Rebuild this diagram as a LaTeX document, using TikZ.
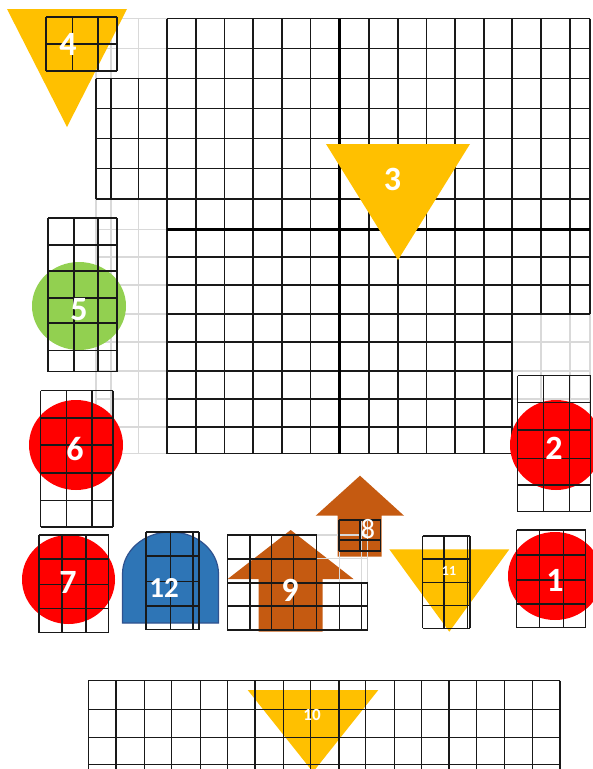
\documentclass[tikz,border=0pt]{standalone}
\usepackage{fontspec}
\usepackage{tikz}
\newfontfamily\numfont{Carlito}
\definecolor{amber}{RGB}{255,192,0}
\definecolor{brightred}{RGB}{255,0,0}
\definecolor{leafgreen}{RGB}{146,208,80}
\definecolor{steelblue}{RGB}{46,117,182}
\definecolor{navyedge}{RGB}{47,82,143}
\definecolor{rust}{RGB}{197,90,17}
\definecolor{paleline}{RGB}{217,217,217}

\begin{document}
\begin{tikzpicture}[
  x=1pt, y=-1pt,
  gline/.style={line width=1.3pt, black!90},
  fline/.style={line width=1.4pt, paleline},
  axisline/.style={line width=2.4pt, black},
  tri/.style={fill=amber},
  disc/.style={fill=brightred},
  num/.style={text=white, inner sep=0pt, font=\numfont\bfseries\fontsize{34}{34}\selectfont}
]
\useasboundingbox (0,0) rectangle (593,769);
\clip (0,0) rectangle (593,769);

%% Faint background grid
\foreach \x in {96,111,138.5}
  \draw[fline] (\x,18.5) -- (\x,453.5);
\foreach \y in {18.5,48.3,78.5,108.5,138.3,168.5,199,229.3,257,285,314,342,371,399,427,453.5}
  \draw[fline] (96,\y) -- (167,\y);
\foreach \x in {541,570,590}
  \draw[fline] (\x,314) -- (\x,453.5);
\foreach \y in {342,371,399,427,453.5}
  \draw[fline] (512,\y) -- (590,\y);

%% Main grid
\foreach \x in {167,196,224.7,253,282,310.7,369,398,426.7,455,484,512}
  \draw[gline] (\x,18.5) -- (\x,453.5);
\foreach \x in {541,570,590}
  \draw[gline] (\x,18.5) -- (\x,314);
\foreach \y in {18.5,48.3,78.5,108.5,138.3,168.5,199,257,285,314}
  \draw[gline] (167,\y) -- (590,\y);
\foreach \y in {342,371,399,427,453.5}
  \draw[gline] (167,\y) -- (512,\y);
\foreach \x in {96,111,138.5}
  \draw[gline] (\x,78.5) -- (\x,199);
\foreach \y in {78.5,108.5,138.3,168.5,199}
  \draw[gline] (96,\y) -- (167,\y);
\draw[axisline] (167,229.3) -- (590,229.3);
\draw[axisline] (339.5,18.5) -- (339.5,453.5);

%% 3
\fill[tri] (326,144) -- (470,144) -- (398,260) -- cycle;
\node[num] (n3) at (392.5,179.5) {3};

%% 4
\fill[tri] (7,9) -- (127,9) -- (67,127) -- cycle;
\foreach \x in {46,72.7,98,117}
  \draw[gline] (\x,17) -- (\x,71);
\foreach \y in {17,44,71}
  \draw[gline] (46,\y) -- (117,\y);
\node[num] (n4) at (68,44) {4};

%% 5
\fill[leafgreen] (79,306) ellipse [x radius=47, y radius=44];
\foreach \x in {48,74,98,117}
  \draw[gline] (\x,218) -- (\x,371.5);
\foreach \y in {218,245,271,298,323,350.5,371.5}
  \draw[gline] (48,\y) -- (117,\y);
\node[num] (n5) at (79,310) {5};

%% 6
\fill[disc] (76,445) ellipse [x radius=47, y radius=45];
\foreach \x in {40.7,66.7,92,113}
  \draw[gline] (\x,390.7) -- (\x,527);
\foreach \y in {390.7,418,445,473,500.5,527}
  \draw[gline] (40.7,\y) -- (113,\y);
\node[num] (n6) at (75,449) {6};

%% 2
\fill[disc] (556,445) ellipse [x radius=46, y radius=45];
\foreach \x in {517.7,543.3,569.3,590.5}
  \draw[gline] (\x,375.7) -- (\x,511.7);
\foreach \y in {375.7,402.7,430,458.3,485,511.7}
  \draw[gline] (517.7,\y) -- (590.5,\y);
\node[num] (n2) at (554,448) {2};

%% 7
\fill[disc] (68.5,579.5) ellipse [x radius=46.5, y radius=44.5];
\foreach \x in {39,62,86,108.7}
  \draw[gline] (\x,535) -- (\x,632.7);
\foreach \y in {535,559,584.7,608.7,632.7}
  \draw[gline] (39,\y) -- (108.7,\y);
\node[num] (n7) at (68,582) {7};

%% 12
\filldraw[fill=steelblue, draw=navyedge, line width=1.2pt]
  (122.5,623) -- (122.5,574) arc[start angle=180, end angle=360, x radius=48, y radius=42]
  -- (218.5,623) -- cycle;
\foreach \x in {146,170.5,193,199}
  \draw[gline] (\x,532) -- (\x,629.5);
\foreach \y in {532,556,581.7,606,629.5}
  \draw[gline] (146,\y) -- (199,\y);
\node[num, font=\numfont\bfseries\fontsize{29}{29}\selectfont] (n12) at (164,588) {12};

%% 9 and 8
\fill[rust] (258.7,631.5) -- (258.7,579) -- (227.7,579) -- (290.7,530)
  -- (353.5,579) -- (322.7,579) -- (322.7,631.5) -- cycle;
\fill[rust] (337.5,556.7) -- (337.5,515.7) -- (315.7,515.7) -- (360,475.7)
  -- (404,515.7) -- (381.7,515.7) -- (381.7,556.7) -- cycle;
\draw[fline] (339.3,535) -- (339.3,583);
\draw[fline] (361.7,520) -- (361.7,583);
\draw[fline] (367.7,520) -- (367.7,583);
\draw[fline] (316.5,535) -- (367.7,535);
\draw[fline] (316.5,558.5) -- (367.7,558.5);
\foreach \x in {227.3,250,271.7,293.3,316.5}
  \draw[gline] (\x,535) -- (\x,630);
\foreach \x in {339.3,361.7,367.7}
  \draw[gline] (\x,583) -- (\x,630);
\foreach \y in {535,559}
  \draw[gline] (227.3,\y) -- (316.5,\y);
\foreach \y in {583,606,630}
  \draw[gline] (227.3,\y) -- (367.7,\y);
\foreach \x in {339,360,380.5}
  \draw[gline] (\x,520) -- (\x,551);
\foreach \y in {520,540,551}
  \draw[gline] (339,\y) -- (380.5,\y);
\node[num] (n9) at (290,590) {9};
\node[num, font=\numfont\fontsize{28}{28}\selectfont] (n8) at (368,529) {8};

%% 11
\fill[tri] (389.3,549.3) -- (509.3,549.3) -- (449.3,631.7) -- cycle;
\foreach \x in {422.7,444,467.7,470}
  \draw[gline] (\x,536) -- (\x,628.3);
\foreach \y in {536,559,582.7,605.7,628.3}
  \draw[gline] (422.7,\y) -- (470,\y);
\node[num, font=\numfont\bfseries\fontsize{14}{14}\selectfont] (n11) at (449,571) {11};

%% 1
\fill[disc] (555,576) ellipse [x radius=47, y radius=44];
\foreach \x in {516.7,539.3,563.3,585.7}
  \draw[gline] (\x,530) -- (\x,627.7);
\foreach \y in {530,555,580,604,627.7}
  \draw[gline] (516.7,\y) -- (585.7,\y);
\node[num] (n1) at (555,580) {1};

%% 10
\fill[tri] (247.7,690) -- (378.3,690) -- (313,772) -- cycle;
\foreach \x in {88.3,116,144.3,171.7,200.7,227.7,255,283.3,310.7,339,365.7,394.3,421.7,449,476.7,504.3,532.3,560}
  \draw[gline] (\x,680.7) -- (\x,780);
\foreach \y in {680.7,709.3,737.7,764.3}
  \draw[gline] (88.3,\y) -- (560,\y);
\node[num, font=\numfont\bfseries\fontsize{17}{17}\selectfont] (n10) at (312,715) {10};

\end{tikzpicture}
\end{document}
